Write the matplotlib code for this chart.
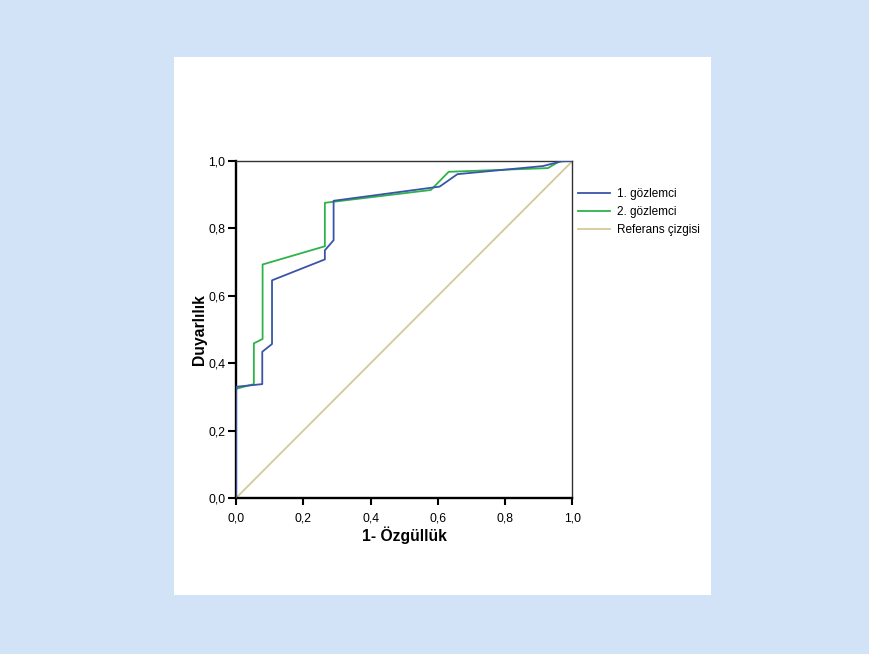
import matplotlib.pyplot as plt
from matplotlib.ticker import FuncFormatter

plt.rcParams['font.family'] = ['Liberation Sans', 'DejaVu Sans']

# ROC points (1 - specificity, sensitivity)
obs1_x = [0.0, 0.0, 0.078, 0.078, 0.107, 0.107, 0.264, 0.264, 0.290, 0.290, 0.605, 0.658, 0.912, 0.971, 1.0]
obs1_y = [0.0, 0.330, 0.338, 0.434, 0.457, 0.646, 0.708, 0.735, 0.765, 0.882, 0.924, 0.961, 0.985, 1.0, 1.0]

obs2_x = [0.0, 0.0, 0.053, 0.053, 0.079, 0.079, 0.264, 0.264, 0.289, 0.579, 0.632, 0.927, 0.961, 1.0]
obs2_y = [0.0, 0.324, 0.338, 0.459, 0.472, 0.693, 0.747, 0.876, 0.879, 0.914, 0.968, 0.979, 0.999, 1.0]

ref_x = [0.0, 1.0]
ref_y = [0.0, 1.0]

labels = ['1. gözlemci', '2. gözlemci', 'Referans çizgisi']
ticks = [0.0, 0.2, 0.4, 0.6, 0.8, 1.0]

fig = plt.figure(figsize=(8.69, 6.54), dpi=100)
fig.patch.set_facecolor('#d3e3f7')

# white panel behind the chart
panel = fig.add_axes([0.2002, 0.0902, 0.618, 0.8226], zorder=-1)
panel.set_facecolor('white')
panel.set_xticks([])
panel.set_yticks([])
for s in panel.spines.values():
    s.set_visible(False)

ax = fig.add_axes([0.2716, 0.2385, 0.3872, 0.5153])
ax.set_facecolor('white')

ax.plot(obs1_x, obs1_y, color='#3a55a8', lw=1.3, label=labels[0], zorder=3)
ax.plot(obs2_x, obs2_y, color='#2db34a', lw=1.3, label=labels[1], zorder=2)
ax.plot(ref_x, ref_y, color='#d4c99a', lw=1.3, label=labels[2], zorder=1)

ax.set_xlim(0, 1)
ax.set_ylim(0, 1)
ax.set_xticks(ticks)
ax.set_yticks(ticks)
fmt = FuncFormatter(lambda v, p: f'{v:.1f}'.replace('.', ','))
ax.xaxis.set_major_formatter(fmt)
ax.yaxis.set_major_formatter(fmt)
ax.tick_params(direction='out', width=1.5, labelsize=8.8)
ax.tick_params(axis='x', length=5, pad=5.3)
ax.tick_params(axis='y', length=6, pad=1.5)

for side in ['left', 'bottom']:
    ax.spines[side].set_linewidth(1.7)
    ax.spines[side].set_color('black')
for side in ['top', 'right']:
    ax.spines[side].set_linewidth(1.0)
    ax.spines[side].set_color('#333333')

ax.set_xlabel('1- Özgüllük', fontsize=11.3, fontweight='bold', labelpad=1.5)
ax.set_ylabel('Duyarlılık', fontsize=11.3, fontweight='bold', labelpad=1)

ax.legend(loc='upper left', bbox_to_anchor=(1.0, 0.937), frameon=False, fontsize=8.5,
          handlelength=2.7, handletextpad=0.6, labelspacing=0.5,
          borderaxespad=0.1, borderpad=0.4)

fig.savefig('out.png', dpi=100, facecolor=fig.get_facecolor())
